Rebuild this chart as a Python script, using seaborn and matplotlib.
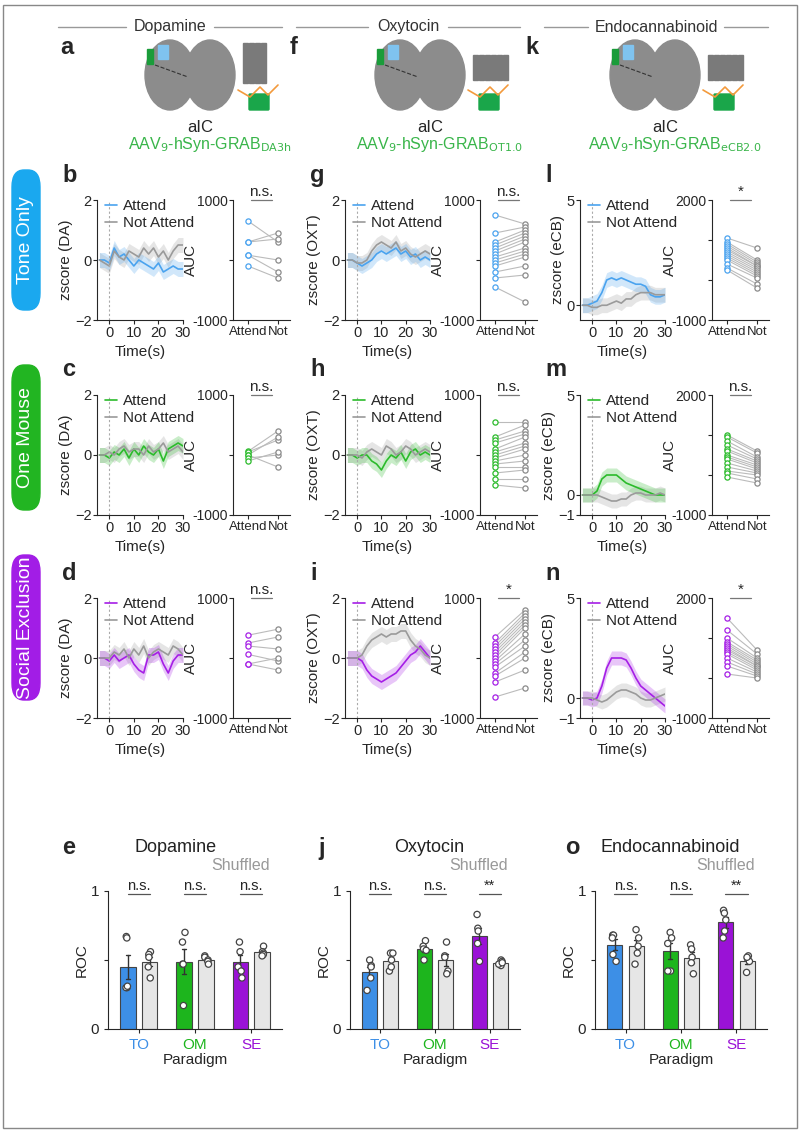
import numpy as np
import pandas as pd
import matplotlib
matplotlib.use('Agg')
import matplotlib.pyplot as plt
import seaborn as sns
from matplotlib.patches import FancyBboxPatch, Ellipse, Rectangle

sns.set_style('ticks')
plt.rcParams['font.family'] = ['Liberation Sans', 'DejaVu Sans']
plt.rcParams['font.size'] = 10

# ---- data ----
time_s = [-4, -2, 0, 2, 4, 6, 8, 10, 12, 14, 16, 18, 20, 22, 24, 26, 28, 30]

da_to_att = [0, 0, -0.1, 0.4, 0.1, 0.2, 0, -0.2, 0, -0.1, -0.2, -0.3, -0.1, -0.4, -0.3, -0.2, -0.3, -0.3]
da_to_not = [0, -0.1, -0.2, 0.3, 0.1, 0, 0.3, 0.2, 0.1, 0.4, 0.2, 0.4, 0.1, 0.3, 0, 0.3, 0.5, 0.5]
da_om_att = [0, 0, -0.1, 0.1, 0, 0.2, -0.1, 0.2, 0, 0.3, 0.1, 0, 0.2, -0.2, 0.2, 0.3, 0.4, 0.3]
da_om_not = [0, 0, 0.1, 0, 0.2, 0.3, 0.1, 0.2, 0.2, 0, 0.3, 0.1, 0.2, 0.4, 0.1, 0.2, 0.3, 0.1]
da_se_att = [0, 0, -0.1, 0.1, -0.1, 0, 0.1, -0.2, -0.4, -0.5, 0.1, 0.1, 0.2, -0.2, -0.5, -0.1, 0.1, 0.1]
da_se_not = [0, 0, 0, 0.2, 0.1, 0.3, 0, 0.3, 0.1, 0.4, 0, 0.2, 0.3, 0.2, 0.1, 0.4, 0.3, 0.1]

ot_to_att = [0, 0, -0.1, -0.2, -0.1, 0, 0.2, 0.3, 0.2, 0.3, 0.4, 0.2, 0.3, 0.1, 0.2, 0, 0.1, 0]
ot_to_not = [0, 0, -0.1, -0.1, 0, 0.3, 0.5, 0.6, 0.5, 0.4, 0.6, 0.3, 0.4, 0.2, 0.1, 0.2, 0.3, 0.2]
ot_om_att = [0, 0, -0.1, 0, 0, -0.2, -0.3, -0.5, -0.2, 0, -0.1, 0.1, -0.2, 0.1, 0.2, 0, 0.1, 0]
ot_om_not = [0, 0, 0, -0.1, 0.1, 0.2, 0.1, 0, 0.3, 0.2, 0, 0.1, 0.3, 0.2, 0, 0.1, 0.2, 0.1]
ot_se_att = [0, 0, 0, -0.1, -0.4, -0.6, -0.7, -0.8, -0.7, -0.6, -0.5, -0.3, -0.1, 0.1, 0.2, 0.4, 0.2, 0]
ot_se_not = [0, 0, 0, 0.1, 0.4, 0.6, 0.7, 0.8, 0.7, 0.8, 0.8, 0.9, 0.9, 0.6, 0.4, 0.3, 0.1, 0]

cb_to_att = [0, 0, 0.1, 0.2, 0.6, 1.2, 1.3, 1.2, 1.3, 1.2, 1.1, 1.0, 1.0, 0.9, 0.5, 0.4, 0.4, 0.5]
cb_to_not = [0, 0, -0.1, -0.1, 0, 0, 0.1, 0.2, 0.1, 0.3, 0.3, 0.5, 0.6, 0.6, 0.6, 0.5, 0.5, 0.5]
cb_om_att = [0, 0, 0, 0.2, 0.8, 1.0, 1.0, 1.0, 0.8, 0.6, 0.5, 0.4, 0.3, 0.2, 0.1, 0, 0, 0]
cb_om_not = [0, 0, 0, 0, -0.1, -0.2, -0.3, -0.3, -0.2, -0.2, 0, 0.1, 0.1, 0, 0, 0, 0.1, 0]
cb_se_att = [0, 0, -0.1, 0, 0.6, 1.5, 2.0, 2.0, 2.0, 1.9, 1.5, 1.0, 0.6, 0.4, 0.2, 0, -0.2, -0.4]
cb_se_not = [0, 0, 0, -0.1, -0.2, -0.1, 0.1, 0.3, 0.4, 0.4, 0.3, 0.2, 0, -0.1, -0.1, 0, 0.1, 0.2]

sem_da, sem_ot, sem_cb = 0.25, 0.25, 0.35

auc_da_to = ([650, 300, 300, 80, 80, -100], [300, 450, 350, 0, -200, -300])
auc_da_om = ([60, 50, 0, 0, -50, -100], [400, 250, 300, -200, 0, 50])
auc_da_se = ([380, 250, 200, 60, -100, -100], [480, 350, 150, -50, -200, 0])
auc_ot_to = ([750, 450, 300, 250, 200, 150, 100, 50, 0, -50, -100, -200, -300, -450],
             [600, 550, 500, 450, 400, 350, 300, 200, 150, 100, 50, -100, -250, -700])
auc_ot_om = ([550, 300, 250, 200, 100, 50, 0, -50, -100, -150, -200, -300, -400, -500],
             [550, 500, 400, 350, 300, 200, 150, 100, 0, -100, -200, -250, -400, -550])
auc_ot_se = ([350, 250, 200, 150, 100, 50, 0, -50, -100, -150, -250, -300, -400, -650],
             [800, 750, 700, 650, 600, 550, 500, 400, 300, 200, 100, 0, -200, -500])
auc_cb_to = ([1050, 950, 900, 850, 800, 750, 700, 650, 600, 550, 500, 400, 300, 250],
             [800, 500, 450, 400, 350, 350, 300, 250, 200, 150, 100, 50, -100, -200])
auc_cb_om = ([1000, 950, 850, 750, 650, 600, 500, 450, 400, 300, 200, 100, 50, -50],
             [600, 550, 450, 400, 350, 300, 250, 200, 150, 100, 50, 0, -100, -200])
auc_cb_se = ([1500, 1200, 1000, 900, 850, 800, 750, 700, 650, 600, 500, 400, 300, 100],
             [700, 600, 500, 450, 400, 350, 300, 300, 250, 200, 150, 100, 50, 0])

paradigms = ['TO', 'OM', 'SE']
roc_da = {'TO': ([0.67, 0.66, 0.30, 0.30, 0.31], [0.56, 0.54, 0.52, 0.45, 0.37]),
          'OM': ([0.70, 0.63, 0.47, 0.47, 0.17], [0.53, 0.52, 0.50, 0.49, 0.47]),
          'SE': ([0.63, 0.56, 0.45, 0.42, 0.37], [0.60, 0.56, 0.55, 0.54, 0.53])}
roc_ot = {'TO': ([0.50, 0.46, 0.45, 0.37, 0.28], [0.55, 0.55, 0.50, 0.42, 0.45]),
          'OM': ([0.64, 0.60, 0.58, 0.57, 0.50], [0.63, 0.53, 0.52, 0.42, 0.40]),
          'SE': ([0.83, 0.73, 0.71, 0.62, 0.49], [0.50, 0.49, 0.46, 0.47, 0.48])}
roc_cb = {'TO': ([0.68, 0.68, 0.66, 0.54, 0.49], [0.72, 0.66, 0.60, 0.55, 0.47]),
          'OM': ([0.70, 0.66, 0.62, 0.42, 0.42], [0.61, 0.58, 0.52, 0.48, 0.40]),
          'SE': ([0.86, 0.84, 0.79, 0.71, 0.66], [0.53, 0.51, 0.49, 0.52, 0.41])}
sig_roc = [['n.s.', 'n.s.', 'n.s.'], ['n.s.', 'n.s.', '**'], ['n.s.', 'n.s.', '**']]

BLUE, GREEN, PURPLE = '#4aa3ef', '#2bbb2b', '#a51ee6'
BAR_C = {'TO': '#3d8fe6', 'OM': '#1db51d', 'SE': '#9a12d6'}
GRAY = '#9a9a9a'

W, H = 800, 1133
fig = plt.figure(figsize=(8, 11.33), dpi=100)


def fa(x0, y0, x1, y1):
    return fig.add_axes([x0 / W, 1 - y1 / H, (x1 - x0) / W, (y1 - y0) / H])


def ftext(x, y, s, **kw):
    fig.text(x / W, 1 - y / H, s, **kw)


# border
fig.add_artist(Rectangle((0.004, 0.004), 0.992, 0.992, transform=fig.transFigure,
                         fill=False, ec='#888888', lw=1))

# headers: name, header centre, text half width, content centre, letter, sensor
cols = [('Dopamine', 170, 44, 205, 'a', 'DA3h'), ('Oxytocin', 408, 40, 435, 'f', 'OT1.0'),
        ('Endocannabinoid', 656, 68, 670, 'k', 'eCB2.0')]
for i, (name, hx, tw, cx, letter, sub) in enumerate(cols):
    ftext(hx, 27, name, ha='center', va='center', fontsize=11.5, color='#333333')
    half = 112
    y = 1 - 27 / H
    fig.add_artist(plt.Line2D([(hx - half) / W, (hx - tw) / W], [y, y], color='#999999', lw=1))
    fig.add_artist(plt.Line2D([(hx + tw) / W, (hx + half) / W], [y, y], color='#999999', lw=1))
    ftext(cx - 145, 48, letter, fontsize=17, fontweight='bold', va='center')
    ftext(cx - 5, 127, 'aIC', ha='center', va='center', fontsize=12)
    ftext(cx + 5, 145, f'AAV$_9$-hSyn-GRAB$_{{\\mathrm{{{sub}}}}}$', ha='center', va='center',
          fontsize=11.5, color='#39b54a')
    # schematic
    sa = fa(cx - 95, 35, cx + 75, 120)
    sa.set_xlim(0, 170)
    sa.set_ylim(85, 0)
    sa.axis('off')
    sa.add_patch(Ellipse((60, 40), 50, 70, color='#8c8c8c'))
    sa.add_patch(Ellipse((100, 40), 50, 70, color='#8c8c8c'))
    sa.add_patch(Rectangle((37, 14), 6, 15, color='#1a9c3a'))
    sa.add_patch(Rectangle((48, 10), 10, 14, color='#7fc3ef'))
    sa.plot([45, 78], [30, 42], ls='--', color='#333333', lw=0.8)
    for k in range(4 if i == 0 else 6):
        sa.add_patch(Rectangle((133 + k * 6, 8 if i == 0 else 20), 5, 40 if i == 0 else 25, color='#7a7a7a'))
    sa.add_patch(FancyBboxPatch((140, 60), 18, 14, boxstyle='round,pad=1', color='#1aa64a'))
    sa.plot([128, 140, 150, 158, 168], [55, 62, 52, 60, 50], color='#f39a3c', lw=1.2)

# row labels
rows = [('Tone Only', 170, 310, '#1aa8ef'), ('One Mouse', 365, 510, '#22b522'),
        ('Social Exclusion', 555, 700, '#a21de6')]
for name, y0, y1, c in rows:
    fig.add_artist(FancyBboxPatch((12 / W, 1 - y1 / H), 28 / W, (y1 - y0) / H,
                                  boxstyle='round,pad=0,rounding_size=0.015',
                                  transform=fig.transFigure, color=c))
    ftext(26, (y0 + y1) / 2, name, rotation=90, ha='center', va='center', color='white', fontsize=14)

traces = [[(da_to_att, da_to_not), (ot_to_att, ot_to_not), (cb_to_att, cb_to_not)],
          [(da_om_att, da_om_not), (ot_om_att, ot_om_not), (cb_om_att, cb_om_not)],
          [(da_se_att, da_se_not), (ot_se_att, ot_se_not), (cb_se_att, cb_se_not)]]
aucs = [[auc_da_to, auc_ot_to, auc_cb_to], [auc_da_om, auc_ot_om, auc_cb_om],
        [auc_da_se, auc_ot_se, auc_cb_se]]
sig_auc = [['n.s.', 'n.s.', '*'], ['n.s.', 'n.s.', 'n.s.'], ['n.s.', '*', '*']]
letters = [['b', 'g', 'l'], ['c', 'h', 'm'], ['d', 'i', 'n']]
row_colors = [BLUE, GREEN, PURPLE]
row_top = [200, 395, 598]
tr_x = [(97, 183), (345, 430), (580, 665)]
auc_x = [(233, 290), (480, 537), (712, 769)]
ylabels = ['zscore (DA)', 'zscore (OXT)', 'zscore (eCB)']
sems = [sem_da, sem_ot, sem_cb]

for r in range(3):
    top = row_top[r]
    for c in range(3):
        ftext(tr_x[c][0] - 35, top - 25, letters[r][c], fontsize=17, fontweight='bold', va='center')
        ax = fa(tr_x[c][0], top, tr_x[c][1], top + 120)
        att, nat = traces[r][c]
        df = pd.DataFrame({'t': time_s * 2, 'z': att + nat,
                           'g': ['Attend'] * len(att) + ['Not Attend'] * len(nat)})
        for g, col in [('Not Attend', GRAY), ('Attend', row_colors[r])]:
            d = df[df.g == g]
            ax.fill_between(d.t, d.z - sems[c], d.z + sems[c], color=col, alpha=0.25, lw=0)
        sns.lineplot(data=df, x='t', y='z', hue='g', palette={'Attend': row_colors[r], 'Not Attend': GRAY},
                     hue_order=['Attend', 'Not Attend'], ax=ax, lw=1.2)
        ax.axvline(0, color='#aaaaaa', ls=(0, (2, 2)), lw=0.8)
        ax.set_xlim(-5, 30)
        ax.set_xticks([0, 10, 20, 30])
        if c == 2:
            ax.set_ylim(-1 if r else -0.7, 5)
            ax.set_yticks([-1, 0, 5] if r else [0, 5])
        else:
            ax.set_ylim(-2, 2)
            ax.set_yticks([-2, 0, 2])
        ax.set_xlabel('Time(s)', fontsize=11)
        ax.set_ylabel(ylabels[c], fontsize=11, labelpad=1)
        ax.tick_params(labelsize=10.5, length=3, pad=1)
        ax.legend(frameon=False, loc='upper left', bbox_to_anchor=(0.02, 1.06), handlelength=0.8,
                  handletextpad=0.4, fontsize=11, labelspacing=0.2, borderaxespad=0)
        sns.despine(ax=ax)

        ax2 = fa(auc_x[c][0], top, auc_x[c][1], top + 120)
        a_vals, n_vals = aucs[r][c]
        for av, nv in zip(a_vals, n_vals):
            ax2.plot([0, 1], [av, nv], color='#bbbbbb', lw=0.8, zorder=1)
        pdf = pd.DataFrame({'cond': ['Attend'] * len(a_vals) + ['Not'] * len(n_vals),
                            'auc': list(a_vals) + list(n_vals)})
        for cond, col in [('Attend', row_colors[r]), ('Not', '#8a8a8a')]:
            d = pdf[pdf.cond == cond]
            ax2.scatter(np.full(len(d), 0 if cond == 'Attend' else 1), d.auc, s=14,
                        facecolors='white', edgecolors=col, lw=0.9, zorder=2)
        ax2.set_xlim(-0.5, 1.4)
        ax2.set_xticks([0, 1])
        ax2.set_xticklabels(['Attend', 'Not'])
        if c == 2:
            ax2.set_ylim(-1000, 2000)
            ax2.set_yticks([-1000, 0, 1000, 2000])
            ax2.set_yticklabels(['-1000', '', '', '2000'])
        else:
            ax2.set_ylim(-1000, 1000)
            ax2.set_yticks([-1000, 0, 1000])
            ax2.set_yticklabels(['-1000', '', '1000'])
        ax2.set_ylabel('AUC', fontsize=11, labelpad=-4)
        ax2.tick_params(labelsize=10, length=3, pad=1)
        for lbl in ax2.get_xticklabels():
            lbl.set_fontsize(9.5)
        ax2.plot([0.1, 0.8], [1.0, 1.0], transform=ax2.get_xaxis_transform(), color='#777777',
                 lw=0.9, clip_on=False)
        ax2.text(0.45, 1.01, sig_auc[r][c], transform=ax2.get_xaxis_transform(), ha='center',
                 va='bottom', fontsize=11)
        sns.despine(ax=ax2)

# ROC bar panels
roc_sets = [roc_da, roc_ot, roc_cb]
bar_x = [(108, 282), (350, 520), (595, 767)]
bar_letters = ['e', 'j', 'o']
letter_x = [62, 318, 565]
title_x = [176, 429, 670]
bar_titles = ['Dopamine', 'Oxytocin', 'Endocannabinoid']
for c in range(3):
    x0, x1 = bar_x[c]
    ftext(letter_x[c], 848, bar_letters[c], fontsize=17, fontweight='bold', va='center')
    ftext(title_x[c], 848, bar_titles[c], fontsize=13, ha='center', va='center', color='#222222')
    ftext(x1 - 12, 866, 'Shuffled', fontsize=11.5, ha='right', va='center', color='#999999')
    ax = fa(x0, 891, x1, 1029)
    rows_ = []
    for p in paradigms:
        for kind, vals in zip(['Real', 'Shuffled'], roc_sets[c][p]):
            for v in vals:
                rows_.append((p, kind, v))
    df = pd.DataFrame(rows_, columns=['par', 'kind', 'roc'])
    sns.barplot(data=df, x='par', y='roc', hue='kind', order=paradigms, hue_order=['Real', 'Shuffled'],
                errorbar='se', capsize=0.15, err_kws={'linewidth': 1, 'color': '#333333'},
                gap=0.3, width=0.78, ax=ax, legend=False, edgecolor='#444444', linewidth=0.8)
    bars = [pt for pt in ax.patches if pt.get_height() > 0]
    bars_sorted = sorted(bars, key=lambda b: b.get_x())
    for i, b in enumerate(bars_sorted):
        p = paradigms[i // 2]
        b.set_facecolor(BAR_C[p] if i % 2 == 0 else '#e6e6e6')
    sns.stripplot(data=df, x='par', y='roc', hue='kind', order=paradigms, hue_order=['Real', 'Shuffled'],
                  dodge=True, jitter=0.08, ax=ax, legend=False, palette=['white', 'white'],
                  edgecolor='#444444', linewidth=0.9, size=4.5, zorder=3)
    for i, p in enumerate(paradigms):
        ax.plot([i - 0.2, i + 0.2], [0.975, 0.975], color='#555555', lw=0.9, clip_on=False)
        ax.text(i, 0.985, sig_roc[c][i], ha='center', va='bottom', fontsize=10.5)
    ax.set_ylim(0, 1)
    ax.set_yticks([0, 0.5, 1])
    ax.set_yticklabels(['0', '', '1'])
    ax.set_xlim(-0.55, 2.55)
    ax.set_ylabel('ROC', fontsize=11, labelpad=1)
    ax.set_xlabel('Paradigm', fontsize=11, labelpad=1)
    ax.tick_params(labelsize=11, length=3)
    for lbl, p in zip(ax.get_xticklabels(), paradigms):
        lbl.set_color(BAR_C[p])
    sns.despine(ax=ax)

fig.savefig('out.png', dpi=100)
